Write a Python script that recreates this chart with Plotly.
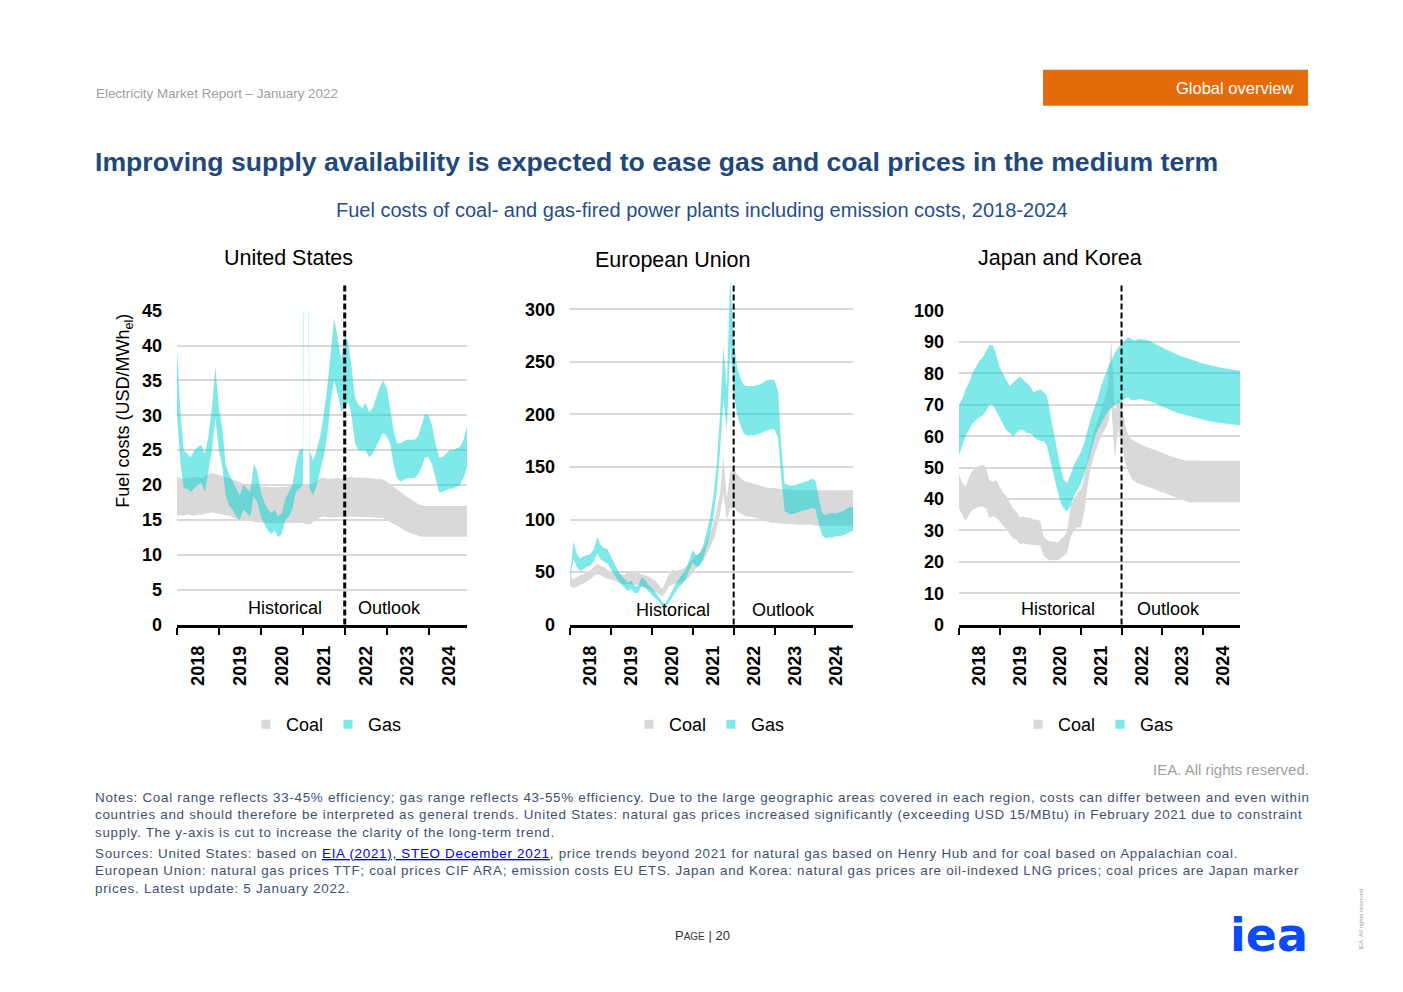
import plotly.graph_objects as go
import pandas as pd

# ---------------- data (monthly, Jan 2018 - Dec 2024) ----------------
months = pd.date_range("2018-01-01", periods=84, freq="MS")
divider_date = "2022-01-01"

us_coal_lo = [15.6,15.7,15.6,15.8,15.7,15.6,15.8,15.7,15.9,16.0,16.1,16.0,
              15.9,15.8,15.8,15.6,15.4,15.2,15.0,15.0,14.9,14.8,14.7,14.7,
              14.6,14.6,14.5,14.5,14.5,14.5,14.5,14.5,14.5,14.6,14.6,14.6,
              14.6,14.4,14.4,14.7,15.1,15.4,15.5,15.4,15.3,15.4,15.4,15.3,
              15.4,15.5,15.5,15.4,15.5,15.4,15.5,15.4,15.4,15.3,15.3,15.3,
              15.0,14.7,14.4,14.1,13.8,13.6,13.3,13.1,12.9,12.7,12.6,12.6,
              12.6,12.6,12.6,12.6,12.6,12.6,12.6,12.6,12.6,12.6,12.6,12.6]
us_coal_hi = [21.2,21.0,20.9,21.1,21.0,21.2,21.1,21.0,21.3,21.6,21.8,21.6,
              21.5,21.3,21.2,21.0,20.8,20.6,20.4,20.2,20.1,20.0,19.9,19.9,
              19.8,19.8,19.7,19.7,19.7,19.7,19.8,19.8,19.8,19.9,19.9,19.9,
              19.9,19.8,19.9,20.2,20.6,21.0,21.1,20.9,20.9,21.0,21.0,20.9,
              21.0,21.1,21.2,21.0,21.1,21.0,21.1,21.0,20.9,20.9,20.9,20.8,
              20.5,20.1,19.7,19.3,18.9,18.6,18.3,17.9,17.6,17.3,17.1,17.0,
              17.0,17.0,17.0,17.0,17.0,17.0,17.0,17.0,17.0,17.0,17.0,17.0]
us_gas_lo = [30,23,19.5,19.5,19,19.5,20,20.3,19,22,25,29.5,
             25,22.5,18.5,17,16.5,15.5,15,16.5,16,15.5,18.5,17.5,
             15.5,14.5,13.5,13,13.5,12.5,13,15,15.5,16.5,19,19.5,
             20,90,19.5,18.5,20,22,24,27,32,35,33,30.5,
             31,32,30,26,25,25,25,24,24.5,25.5,26.5,27.5,
             27,26,23,21,20.5,20.8,21,21,21,21.5,22.5,24,
             24,23,21,19,19,19.2,19.5,19.5,19.7,20,21,22.5]
us_gas_hi = [39.5,30,25,24.5,24,25,25.5,25.7,24.5,27,31,37,
             31,28,23,21.5,20.5,19.5,18.5,20,19.5,19,23,22,
             19,17.5,16.5,16,16.5,15.5,16,18,19,20,23,25,
             25.3,110,25,23.5,25,27,30,34,39,44,41,38,
             41.5,40.5,37,32.5,31.5,31,31.8,30.5,31,32.5,34,35,
             34,31,28,26,26,26.3,26.5,26.5,26.5,27,28.5,30.2,
             30,28.5,26,24,24,24.5,25,25,25.2,25.5,26.5,28.5]

eu_coal_lo = [37,35,36,38,39,41,43,46,48,47,45,44,
              43,42,40,39,38,39,38,38,37,36,35,34,
              33,31,29,27,30,36,38,39,40,40,42,45,
              50,54,56,60,66,73,80,90,105,125,100,110,
              112,108,106,104,103,103,102,101,100,99,98,97,
              97,96.5,96,96,95.5,95.5,95,95,95,95,95,95,
              94,94,94,94,94,94,94,94,94,94,94,94]
eu_coal_hi = [47,43,45,47,48,50,52,55,58,56,55,52,
              51,50,49,48,47,51,50,50,49,48,47,46,
              44,42,38,34,40,48,52,51,52,53,55,58,
              62,66,68,72,78,86,95,108,125,160,120,145,
              148,143,140,137,136,135,134,133,132,131,130,130,
              130,129.5,129,129,128.5,128.5,128,128,128,128,128,128,
              128,128,128,128,128,128,128,128,128,128,128,128]
eu_gas_lo = [45,62,55,51,53,55,56,60,68,62,60,58,
             53,47,43,39,36,32,34,30,30,37,35,32,
             29,25,22,18,16,21,27,32,36,39,44,52,
             59,55,56,62,73,84,100,125,165,215,185,265,
             220,200,190,182,180,180,180,181,182,184,185,186,
             186,178,140,108,106,105,106,107,108,109,110,111,
             110,95,85,82,83,83,84,84,85,86,88,89]
eu_gas_hi = [48,79,68,63,65,66,67,72,83,76,73,72,
             65,57,52,47,44,40,42,37,36,45,43,38,
             35,31,27,22,20,26,33,39,44,48,53,62,
             71,66,68,74,88,100,120,150,200,265,225,330,
             270,245,235,228,227,227,227,228,229,231,233,233,
             233,222,170,134,133,132,133,134,135,136,137,139,
             137,120,106,104,106,106,106,107,108,110,112,112]

jk_coal_lo = [37,35,33,35,36.5,37,37.5,37.5,37,34,34.5,34,
              33,31.5,30.5,29,27.5,27,25.5,26,25.5,25.5,25.3,25.3,
              25.2,22,21,20.5,20.5,20.5,21,22,23,28,30,31,
              31,36,44,50,54,57,60,62,64,70,53,62,
              58,52,49,46.5,45.5,45,44.6,44.2,43.8,43.4,43,42.6,
              42.2,41.7,41.3,40.9,40.5,40.1,39.7,39.3,39,39,39,39,
              39,39,39,39,39,39,39,39,39,39,39,39]
jk_coal_hi = [48,45,44,47,49,50,50.5,51,50,46,45.5,46,
              44,42,41,39,37,36,34,34.5,34,34,33.5,33.5,
              33,28,27,26.5,26.5,26,27,28,30,38,40,42,
              43,47,53,58,62,65,68,72,76,91,68,72,
              70,64,60.5,59,58.3,57.7,57.2,56.8,56.5,56,55.6,55.2,
              54.8,54.3,53.9,53.5,53.1,52.8,52.5,52.3,52.2,52.2,52.2,52.2,
              52.2,52.2,52.2,52.2,52.2,52.2,52.2,52.2,52.2,52.2,52.2,52.2]
jk_gas_lo = [54,57,60,62,64,65,66,66.5,68,70,70,68,
             66,64,62,61,60,61,62,62,61,61,60,59,
             58.5,58.5,57,52,48,43,39,37,36,38,41,43,
             45,48,51,55,59,62,64,66,68,69,70,70.5,
             71,72,72.5,71.5,71.5,71.8,71.8,71.5,71.3,71,70.5,70,
             69.5,69,68.5,68,67.6,67.3,67,66.7,66.4,66.1,65.8,65.5,
             65.2,65,64.8,64.6,64.4,64.2,64.1,64,63.9,63.8,63.7,63.5]
jk_gas_hi = [70,72,75,77,80,82,84,85,87,89,89,86,
             82,80,78,76,77,78,79,78,77,76,74,74.5,
             75,74,73,67,61,55,50,46,45,48,51,53,
             55,58,62,66,69,72,76,79,82,84,86.5,88,
             89.5,90.5,91.5,91,90.5,91,91,90.8,90.5,90,89.5,89,
             88.3,87.7,87.2,86.7,86.2,85.8,85.4,85,84.6,84.2,83.8,83.5,
             83.2,82.9,82.6,82.3,82.1,81.9,81.7,81.5,81.3,81.1,80.9,80.8]

panel_titles = ["United States", "European Union", "Japan and Korea"]
series_names = ["Coal", "Gas"]
y_maxes = [45, 335, 100]
y_steps = [5, 50, 10]

# ---------------- styling ----------------
W, H = 1403, 992
FONT = "Liberation Sans, Arial, sans-serif"
COAL = "#D9D9D9"
GAS_FILL = "rgba(0,212,214,0.5)"
GAS_LEG = "#7FE9EA"

# the photographed page shows the figure slightly squeezed vertically; pre-compensate
Y_OFF, Y_SCALE = 9.3, 0.980

def px(x):
    return x / W

def py(y):
    return 1 - ((y - Y_OFF) / Y_SCALE) / H

# pixel boxes of the three plot areas (left, right, top, bottom)
boxes = [(177, 467, 310, 624), (570, 853, 272, 624), (959, 1240, 310, 624)]
divider_widths = [3, 2, 2]
data = [
    (us_coal_lo, us_coal_hi, us_gas_lo, us_gas_hi),
    (eu_coal_lo, eu_coal_hi, eu_gas_lo, eu_gas_hi),
    (jk_coal_lo, jk_coal_hi, jk_gas_lo, jk_gas_hi),
]

fig = go.Figure()
shapes = []
annotations = []
layout_axes = {}

for i, (box, (c_lo, c_hi, g_lo, g_hi)) in enumerate(zip(boxes, data)):
    n = "" if i == 0 else str(i + 1)
    xa, ya = "x" + n, "y" + n
    leg = "legend" + n
    fig.add_trace(go.Scatter(x=months, y=c_lo, xaxis=xa, yaxis=ya, mode="lines",
                             line=dict(width=0, color=COAL), showlegend=False, hoverinfo="skip"))
    fig.add_trace(go.Scatter(x=months, y=c_hi, xaxis=xa, yaxis=ya, mode="lines", fill="tonexty",
                             fillcolor=COAL, line=dict(width=0, color=COAL), showlegend=False))
    fig.add_trace(go.Scatter(x=months, y=g_lo, xaxis=xa, yaxis=ya, mode="lines",
                             line=dict(width=0, color=GAS_FILL), showlegend=False, hoverinfo="skip"))
    fig.add_trace(go.Scatter(x=months, y=g_hi, xaxis=xa, yaxis=ya, mode="lines", fill="tonexty",
                             fillcolor=GAS_FILL, line=dict(width=0, color=GAS_FILL), showlegend=False))
    # legend entries
    for name, col in zip(series_names, [COAL, GAS_LEG]):
        fig.add_trace(go.Scatter(x=[None], y=[None], xaxis=xa, yaxis=ya, mode="markers", name=name,
                                 marker=dict(symbol="square", size=9, color=col), legend=leg))

    l, r, t, b = box
    ymax = y_maxes[i]
    layout_axes["xaxis" + n] = dict(
        domain=[px(l), px(r)], anchor=ya, type="date",
        range=["2018-01-01", "2024-12-01"],
        tick0="2018-01-01", dtick="M12", tickformat="%Y", ticklabelmode="period",
        tickangle=-90, ticks="outside", ticklen=7, tickwidth=2, tickcolor="black",
        showline=True, linecolor="black", linewidth=3, showgrid=False, zeroline=False,
        tickfont=dict(family=FONT, size=18, color="black", weight="bold"),
        ticklabelstandoff=4,
    )
    layout_axes["yaxis" + n] = dict(
        domain=[py(b), py(t)], anchor=xa, range=[0, ymax],
        tick0=0, dtick=y_steps[i], showgrid=True, gridcolor="#D9D9D9", gridwidth=2,
        zeroline=False, showline=False, ticks="",
        tickfont=dict(family=FONT, size=18, color="black", weight="bold"),
        ticklabelstandoff=14,
    )
    # divider between historical and outlook
    shapes.append(dict(type="line", xref=xa, yref="paper", x0=divider_date, x1=divider_date,
                       y0=py(624), y1=py(283),
                       line=dict(color="black", width=divider_widths[i], dash="6px,3px")))

# legends
legend_common = dict(orientation="h", font=dict(family=FONT, size=18, color="black"),
                     bgcolor="rgba(0,0,0,0)", xanchor="left", yanchor="middle",
                     itemwidth=30, tracegroupgap=0, entrywidth=37, traceorder="normal")
fig.update_layout(
    legend=dict(x=px(246), y=py(724), **legend_common),
    legend2=dict(x=px(629), y=py(724), **legend_common),
    legend3=dict(x=px(1018), y=py(724), **legend_common),
)

def text(x, y, s, size, color="black", xanchor="center", yanchor="middle", weight="normal",
         align="left", angle=0, family=FONT):
    annotations.append(dict(x=px(x), y=py(y), xref="paper", yref="paper", text=s, showarrow=False,
                            xanchor=xanchor, yanchor=yanchor, align=align, textangle=angle,
                            font=dict(family=family, size=size, color=color, weight=weight)))

# panel titles
text(288, 257, panel_titles[0], 21.5)
text(672, 259, panel_titles[1], 21.5)
text(1060, 257, panel_titles[2], 21.5)

# historical / outlook labels
for hx, ox, yy in [(285, 389, 607), (673, 783, 609), (1058, 1168, 608)]:
    text(hx, yy, "Historical", 18)
    text(ox, yy, "Outlook", 18)

# y axis title
text(125, 410, "Fuel costs (USD/MWh<sub>el</sub>)", 18, angle=-90)

# page header
text(94, 93, "Electricity Market Report – January 2022", 13.4, color="#A0A0A0", xanchor="left")
shapes.append(dict(type="rect", xref="paper", yref="paper", x0=px(1043), x1=px(1308),
                   y0=py(105), y1=py(69), fillcolor="#E46C0A", line=dict(width=0), layer="below"))
text(1295, 87, "Global overview", 16.5, color="white", xanchor="right")

text(93, 161, "Improving supply availability is expected to ease gas and coal prices in the medium term",
     26.6, color="#1F497D", xanchor="left", weight="bold")
text(702, 209, "Fuel costs of coal- and gas-fired power plants including emission costs, 2018-2024",
     20, color="#1F4E8F")

text(1311, 769, "IEA. All rights reserved.", 15, color="#A0A0A0", xanchor="right")

LS = "<span style='letter-spacing:0.72px'>"
notes = (LS + "Notes: Coal range reflects 33-45% efficiency; gas range reflects 43-55% efficiency. Due to the large "
         "geographic areas covered in each region, costs can differ between and even within</span><br>" + LS +
         "countries and should therefore be interpreted as general trends. United States: natural gas prices "
         "increased significantly (exceeding USD 15/MBtu) in February 2021 due to constraint</span><br>" + LS +
         "supply. The y-axis is cut to increase the clarity of the long-term trend.</span>")
text(93, 787, notes, 13.4, color="#3E5070", xanchor="left", yanchor="top")

sources = (LS + "Sources: United States: based on </span><span style='color:#0000EE;text-decoration:underline;letter-spacing:0.72px'>"
           "EIA (2021), STEO December 2021</span>" + LS + ", price trends beyond 2021 for natural gas based on Henry Hub "
           "and for coal based on Appalachian coal.</span><br>" + LS +
           "European Union: natural gas prices TTF; coal prices CIF ARA; emission costs EU ETS. Japan and Korea: "
           "natural gas prices are oil-indexed LNG prices; coal prices are Japan marker</span><br>" + LS +
           "prices. Latest update: 5 January 2022.</span>")
text(93, 843, sources, 13.4, color="#3E5070", xanchor="left", yanchor="top")

text(702, 935, "P<span style='font-size:10px'>AGE</span> | 20", 13, color="#333333")
text(1269, 934, "iea", 46, color="#0A4BFF", weight="bold", family="DejaVu Sans")
text(1361, 918, "IEA. All rights reserved.", 6, color="#A0A0A0", angle=-90)

fig.update_layout(
    width=W, height=H, margin=dict(l=0, r=0, t=0, b=0),
    paper_bgcolor="white", plot_bgcolor="white",
    font=dict(family=FONT, color="black"),
    shapes=shapes, annotations=annotations, hovermode=False,
    **layout_axes,
)

post = ("document.documentElement.style.margin='0';document.documentElement.style.padding='0';"
        "document.documentElement.style.overflow='hidden';"
        "document.body.style.margin='0';document.body.style.padding='0';document.body.style.overflow='hidden';"
        "var d=document.querySelector('.plotly-graph-div');"
        "d.style.position='fixed';d.style.top='0px';d.style.left='0px';")
fig.write_html("out.html", config={"displayModeBar": False}, post_script=post)
